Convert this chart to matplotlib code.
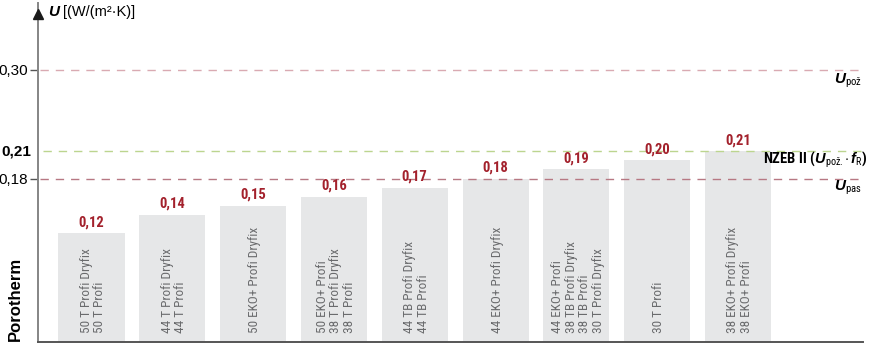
import matplotlib
matplotlib.use("Agg")
import matplotlib.pyplot as plt
from matplotlib import font_manager as fm

# ---- data ----
values = [0.12, 0.14, 0.15, 0.16, 0.17, 0.18, 0.19, 0.20, 0.21]
value_labels = ["0,12", "0,14", "0,15", "0,16", "0,17", "0,18", "0,19", "0,20", "0,21"]
bar_labels = [
    "50 T Profi Dryfix\n50 T Profi",
    "44 T Profi Dryfix\n44 T Profi",
    "50 EKO+ Profi Dryfix",
    "50 EKO+ Profi\n38 T Profi Dryfix\n38 T Profi",
    "44 TB Profi Dryfix\n44 TB Profi",
    "44 EKO+ Profi Dryfix",
    "44 EKO+ Profi\n38 TB Profi Dryfix\n38 TB Profi\n30 T Profi Dryfix",
    "30 T Profi",
    "38 EKO+ Profi Dryfix\n38 EKO+ Profi",
]
ref_values = [0.30, 0.21, 0.18]
ref_ticklabels = ["0,30", "0,21", "0,18"]

installed = {f.name for f in fm.fontManager.ttflist}
narrow_pref = ["Liberation Sans Narrow", "Roboto Condensed", "Archivo Narrow",
               "PT Sans Narrow", "Asap Condensed", "Barlow Condensed"]
NARROW_NAME = next((n for n in narrow_pref if n in installed), "DejaVu Sans")
NARROW = [NARROW_NAME, "DejaVu Sans"]
SANS = ["Liberation Sans", "DejaVu Sans"]

plt.rcParams["mathtext.fontset"] = "custom"
plt.rcParams["mathtext.rm"] = NARROW_NAME
plt.rcParams["mathtext.bfit"] = "Liberation Sans:italic:bold"
plt.rcParams["mathtext.it"] = "Liberation Sans:italic"
plt.rcParams["mathtext.bf"] = "Liberation Sans:bold"

W, H = 880, 345
fig = plt.figure(figsize=(W / 100, H / 100), dpi=100)
ax_left, ax_right = 38, 863
y0_px, ytop_px = 342, 3
ax = fig.add_axes([ax_left / W, (H - y0_px) / H, (ax_right - ax_left) / W, (y0_px - ytop_px) / H])

x = list(range(len(values)))
XL = -0.662
ax.set_xlim(XL, 9.547)
ax.set_ylim(0, (y0_px - ytop_px) / 908)

bar_gray = "#e6e7e8"
ax.bar(x, values, width=0.817, color=bar_gray, zorder=1)

# reference lines
ax.axhline(0.30, xmin=0.003, xmax=0.997, color="#d9aab2", lw=1.0, dashes=(6, 5), zorder=2)
ax.axhline(0.21, xmin=0.006, xmax=0.999, color="#bcd58f", lw=1.0, dashes=(6, 5), zorder=2)
ax.axhline(0.18, xmin=0.003, xmax=0.999, color="#b77883", lw=1.0, dashes=(6, 5), zorder=2)

# value labels
for xi, v, lab in zip(x, values, value_labels):
    ax.annotate(lab, (xi, v), xytext=(0, 5), textcoords="offset points",
                ha="center", va="baseline", color="#a3212c",
                fontsize=10.5, fontweight="bold", family=NARROW, zorder=3)

# bar labels (rotated)
for xi, lab in zip(x, bar_labels):
    ax.text(xi + 0.02, 0.010, lab, rotation=90, ha="center", va="bottom",
            color="#6a6b6d", fontsize=9.5, family=NARROW, linespacing=1.05,
            multialignment="left", zorder=3)

# spines
for s in ["top", "right"]:
    ax.spines[s].set_visible(False)
ax.spines["left"].set_color("#858585")
ax.spines["left"].set_linewidth(1.4)
ax.spines["bottom"].set_color("#555555")
ax.spines["bottom"].set_linewidth(1.4)

ax.set_xticks([])
ax.set_yticks([0.30, 0.18])
ax.set_yticklabels(["0,30", "0,18"], family=SANS, fontsize=11)
ax.tick_params(axis="y", length=6, width=1, color="#555555", pad=1)
ax.text(XL - 0.085, 0.21, "0,21", ha="right", va="center", fontsize=11,
        fontweight="bold", family=SANS)

# arrow on y axis
ax.plot([XL], [ax.get_ylim()[1] - 0.012], marker="^", markersize=7,
        color="#1a1a1a", clip_on=False, zorder=5)

# axis title
fig.text(48 / W, 1 - 12 / H, r"$\mathbfit{U}$", ha="left", va="center", fontsize=11)
fig.text(63 / W, 1 - 12 / H, "[(W/(m²·K)]", ha="left", va="center", fontsize=10.5,
         family=SANS)

# Porotherm
fig.text(15 / W, 1 - 341 / H, "Porotherm", rotation=90, ha="center", va="bottom",
         fontsize=12, fontweight="bold", family=SANS)

# right-side labels
xr = 9.547 - 0.01
ax.text(xr, 0.30 - 0.012, r"$\mathbfit{U}_{\mathrm{pož}}$", ha="right", va="center",
        fontsize=11)
ax.text(xr + 0.07, 0.21 - 0.0095,
        r"NZEB II ($\mathbfit{U}_{\mathrm{pož.}}{\cdot}\,\mathbfit{f}_{\mathrm{R}}$)",
        ha="right", va="center", fontsize=10.5, fontweight="bold", family=NARROW,
        clip_on=False)
ax.text(xr, 0.18 - 0.010, r"$\mathbfit{U}_{\mathrm{pas}}$", ha="right", va="center",
        fontsize=11)

fig.savefig("out.png", dpi=100)
